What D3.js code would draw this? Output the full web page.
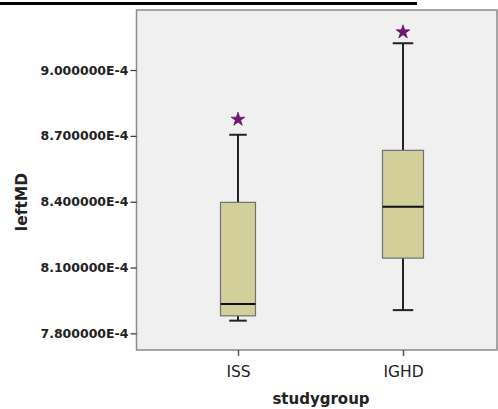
<!DOCTYPE html>
<html>
<head>
<meta charset="utf-8">
<script src="https://cdn.jsdelivr.net/npm/d3@7"></script>
<style>
  html, body { margin: 0; padding: 0; background: #fff; }
  svg { display: block; }
</style>
</head>
<body>
<div id="chart"></div>
<script>
const groups = ["ISS", "IGHD"];
// five-number summaries (units: 1e-4)
const whiskerLow = [7.858, 7.906];
const q1 = [7.880, 8.143];
const medians = [7.934, 8.377];
const q3 = [8.397, 8.634];
const whiskerHigh = [8.705, 9.122];
const extremes = [8.775, 9.173];
const yTicks = [7.8, 8.1, 8.4, 8.7, 9.0];

const width = 498;
const height = 409;
const frame = { left: 136.5, right: 497, top: 10, bottom: 350 };
const boxWidths = [35, 41];

const svg = d3.select("#chart").append("svg")
    .attr("width", width)
    .attr("height", height)
    .attr("viewBox", [0, 0, width, height]);

// leftover underline from the caption above
svg.append("line")
    .attr("x1", 0).attr("x2", 417)
    .attr("y1", 3.5).attr("y2", 3.5)
    .attr("stroke", "#000")
    .attr("stroke-width", 3);

const x = d3.scalePoint()
    .domain(groups)
    .range([238, 403]);

const y = d3.scaleLinear()
    .domain([7.7243, 9.2735])
    .range([frame.bottom, frame.top]);

svg.append("rect")
    .attr("x", frame.left)
    .attr("y", frame.top)
    .attr("width", frame.right - frame.left)
    .attr("height", frame.bottom - frame.top)
    .attr("fill", "#f0f0f0")
    .attr("stroke", "#8a8a8a")
    .attr("stroke-width", 1.5);

const yAxis = svg.append("g")
    .attr("transform", `translate(${frame.left}, 0)`)
    .call(d3.axisLeft(y).tickValues(yTicks).tickSize(6).tickPadding(2)
        .tickFormat((d) => `${d.toFixed(6)}E-4`));
yAxis.select(".domain").remove();
yAxis.selectAll(".tick line").attr("stroke", "#333").attr("stroke-width", 1.2);
yAxis.selectAll("text")
    .attr("fill", "#222")
    .attr("font-family", "DejaVu Sans")
    .attr("font-weight", "bold")
    .attr("font-size", 12.5);

const xAxis = svg.append("g")
    .attr("transform", `translate(0, ${frame.bottom})`)
    .call(d3.axisBottom(x).tickSize(6).tickPadding(10));
xAxis.select(".domain").remove();
xAxis.selectAll(".tick line").attr("stroke", "#555").attr("stroke-width", 1.5);
xAxis.selectAll("text")
    .attr("fill", "#222")
    .attr("font-family", "DejaVu Sans")
    .attr("font-size", 15.5);

svg.append("text")
    .attr("transform", `translate(27, 202) rotate(-90)`)
    .attr("text-anchor", "middle")
    .attr("fill", "#222")
    .attr("font-family", "DejaVu Sans")
    .attr("font-weight", "bold")
    .attr("font-size", 15.5)
    .text("leftMD");

svg.append("text")
    .attr("x", 321)
    .attr("y", 404)
    .attr("text-anchor", "middle")
    .attr("fill", "#222")
    .attr("font-family", "DejaVu Sans")
    .attr("font-weight", "bold")
    .attr("font-size", 15)
    .text("studygroup");

const boxes = groups.map((g, i) => ({
    group: g,
    lo: whiskerLow[i], q1: q1[i], med: medians[i], q3: q3[i], hi: whiskerHigh[i],
    out: extremes[i], w: boxWidths[i]
}));

const bg = svg.append("g").selectAll("g")
    .data(boxes)
    .join("g");

bg.append("line")
    .attr("x1", (d) => x(d.group)).attr("x2", (d) => x(d.group))
    .attr("y1", (d) => y(d.hi)).attr("y2", (d) => y(d.q3))
    .attr("stroke", "#222").attr("stroke-width", 2);

bg.append("line")
    .attr("x1", (d) => x(d.group)).attr("x2", (d) => x(d.group))
    .attr("y1", (d) => y(d.q1)).attr("y2", (d) => y(d.lo))
    .attr("stroke", "#222").attr("stroke-width", 2);

bg.selectAll(".cap")
    .data((d) => [d.lo, d.hi].map((v) => ({ v, group: d.group, w: d.w })))
    .join("line")
    .attr("class", "cap")
    .attr("x1", (d) => x(d.group) - d.w / 4)
    .attr("x2", (d) => x(d.group) + d.w / 4)
    .attr("y1", (d) => y(d.v)).attr("y2", (d) => y(d.v))
    .attr("stroke", "#222").attr("stroke-width", 2);

bg.append("rect")
    .attr("x", (d) => x(d.group) - d.w / 2)
    .attr("width", (d) => d.w)
    .attr("y", (d) => y(d.q3))
    .attr("height", (d) => y(d.q1) - y(d.q3))
    .attr("fill", "#d3cf9b")
    .attr("stroke", "#707070")
    .attr("stroke-width", 1.2);

bg.append("line")
    .attr("x1", (d) => x(d.group) - d.w / 2)
    .attr("x2", (d) => x(d.group) + d.w / 2)
    .attr("y1", (d) => y(d.med)).attr("y2", (d) => y(d.med))
    .attr("stroke", "#111").attr("stroke-width", 2.2);

bg.append("path")
    .attr("transform", (d) => `translate(${x(d.group)}, ${y(d.out)})`)
    .attr("d", d3.symbol(d3.symbolStar, 60))
    .attr("fill", "#7a0f7a")
    .attr("stroke", "#3a1a3a")
    .attr("stroke-width", 0.6);
</script>
</body>
</html>
